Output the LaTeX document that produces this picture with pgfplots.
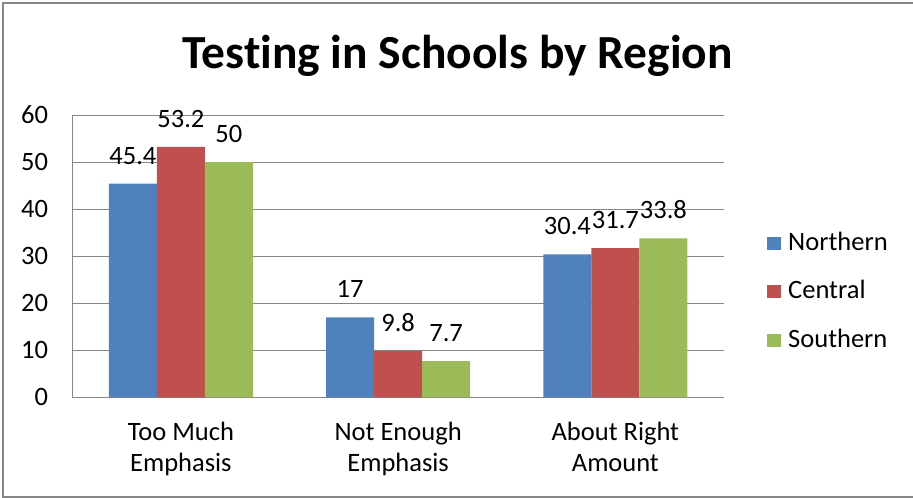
\documentclass[border=0pt]{standalone}
\usepackage{fontspec}
\setmainfont{Carlito}[Ligatures=NoCommon]
\usepackage{pgfplots}
\pgfplotsset{compat=1.18}
\definecolor{cBlue}{HTML}{4F81BD}
\definecolor{cRed}{HTML}{C0504D}
\definecolor{cGreen}{HTML}{9BBB59}
\definecolor{cGrid}{HTML}{868686}
\newcommand{\lbl}{\fontsize{26.5}{31}\selectfont}
\begin{document}
\begin{tikzpicture}[x=1pt,y=1pt]
\useasboundingbox (0,0) rectangle (913,498);
\draw[cGrid, line width=1.3pt] (913,1) -- (3,1) -- (3,495) -- (913,495);
\node[anchor=base, font=\fontsize{47.5}{52}\selectfont\bfseries] at (457.5,429) {Testing in Schools by Region};
\begin{axis}[
  at={(72.3pt,100.7pt)}, anchor=south west,
  scale only axis, width=651.7pt, height=282.3pt,
  ybar=0pt, bar width=48pt,
  xmin=-0.5, xmax=2.5, ymin=0, ymax=60,
  xtick={0,1,2},
  xticklabels={{Too Much\\Emphasis},{Not Enough\\Emphasis},{About Right\\Amount}},
  ytick={0,10,20,30,40,50,60},
  axis x line*=bottom, axis y line*=left,
  axis line style={cGrid, line width=1pt, -},
  ymajorgrids, grid style={cGrid, line width=1pt},
  major tick length=0pt,
  /pgf/number format/assume math mode=true,
  yticklabel style={font=\lbl, inner sep=0pt, anchor=east, xshift=-24pt},
  xticklabel style={font=\lbl, align=center, inner sep=0pt, anchor=north, yshift=-25pt},
  nodes near coords,
  every node near coord/.append style={font=\lbl, anchor=base, yshift=19.5pt, black},
  legend cell align=left,
  legend style={at={(1.066,0.373)}, anchor=west, draw=none, fill=none,
    inner sep=0pt, row sep=25.5pt, font=\lbl,
    nodes={inner sep=0pt, text height=18pt, text depth=5pt}},
  legend image code/.code={\fill[#1] (0pt,-6pt) rectangle (14pt,7pt);},
  /tikz/every odd column/.append style={column sep=7pt},
]
\addplot[fill=cBlue, draw=none] coordinates {(0,45.4) (1,17) (2,30.4)};
\addplot[fill=cRed, draw=none] coordinates {(0,53.2) (1,9.8) (2,31.7)};
\addplot[fill=cGreen, draw=none] coordinates {(0,50) (1,7.7) (2,33.8)};
\legend{Northern,Central,Southern}
\end{axis}
\end{tikzpicture}
\end{document}
